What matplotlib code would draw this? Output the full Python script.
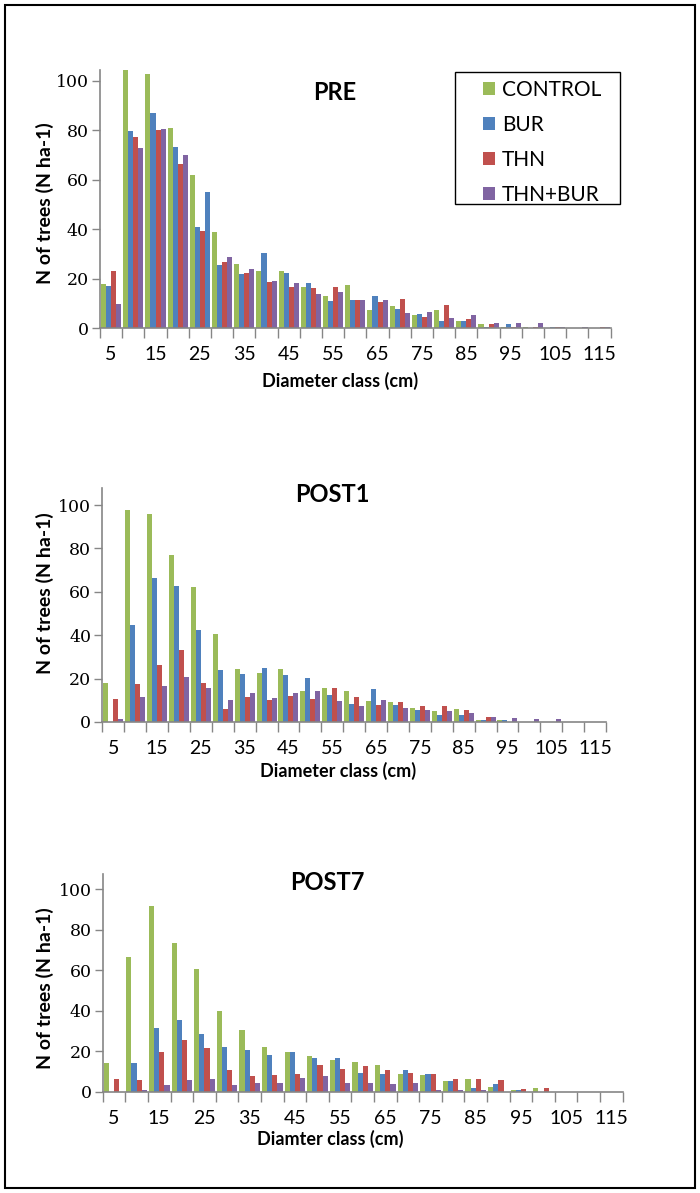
import numpy as np
import matplotlib
matplotlib.use('Agg')
from matplotlib import pyplot as plt
from matplotlib.patches import Rectangle

# -------------------- data ----------------------

classes = [5, 10, 15, 20, 25, 30, 35, 40, 45, 50, 55, 60,
           65, 70, 75, 80, 85, 90, 95, 100, 105, 110, 115]
tick_labels = [str(c) if i % 2 == 0 else '' for i, c in enumerate(classes)]
series = ['CONTROL', 'BUR', 'THN', 'THN+BUR']

# PRE
pre_control = [17.8, 110, 102.8, 81, 61.8, 38.9, 26, 23, 23, 16.6, 12.9, 17.6,
               7.3, 8.9, 5.5, 7.3, 3.1, 1.6, 0.5, 0.5, 0.3, 0, 0]
pre_bur = [17.2, 79.8, 86.8, 73.2, 41, 25.4, 21.8, 30.3, 22.3, 18.2, 10.9, 11.6,
           12.9, 7.9, 5.8, 3.1, 3.1, 0.5, 1.6, 0.1, 0.5, 0, 0]
pre_thn = [23, 77.4, 80, 66.5, 39.4, 26.6, 22.3, 18.7, 16.6, 16.2, 16.6, 11.6,
           10.5, 12, 4.7, 9.3, 3.6, 1.6, 0.5, 0.5, 0.5, 0, 0.5]
pre_thnbur = [10, 72.7, 80.5, 70.1, 55, 28.7, 23.8, 19.2, 18.2, 14, 14.5, 11.6,
              11.6, 6.3, 6.7, 4.2, 5.2, 2.2, 2.2, 2.2, 0.5, 0.5, 0.5]

# POST1
post1_control = [17.8, 97.7, 96, 77.1, 62.4, 40.4, 24.4, 22.7, 24.4, 14.4, 15.5, 14.4,
                 9.7, 9.1, 6.6, 4.9, 6.1, 0.9, 0.9, 0, 0, 0, 0]
post1_bur = [0, 44.5, 66.5, 62.8, 42.2, 23.8, 22, 25, 21.5, 20.3, 12.6, 8.4,
             15.1, 7.8, 5.5, 3.1, 3.1, 0.9, 0.9, 0, 0, 0, 0]
post1_thn = [10.8, 17.4, 26.1, 33.3, 18, 6.1, 11.4, 10.3, 12, 10.8, 15.5, 11.4,
             7.8, 9.1, 7.2, 7.2, 5.5, 2.5, 0, 0, 0, 0, 0]
post1_thnbur = [1.4, 11.4, 16.7, 20.9, 15.5, 10.3, 13.2, 10.9, 13.2, 14.4, 9.7, 7.2,
                10.3, 6.6, 5.5, 4.9, 4.3, 2.5, 2, 1.4, 1.4, 0, 0]

# POST7
post7_control = [14.1, 66.3, 91.6, 73.2, 60.8, 39.7, 30.4, 22.2, 19.7, 17.7, 15.9, 14.6,
                 13.3, 8.9, 8.4, 5.3, 6.4, 2.6, 0.8, 2, 0, 0, 0]
post7_bur = [0, 14.1, 31.7, 35.5, 28.6, 22.2, 20.9, 18.4, 19.7, 16.6, 16.6, 9.5,
             8.9, 10.8, 9, 5.3, 2, 3.9, 0.8, 0, 0, 0, 0]
post7_thn = [6.4, 5.7, 19.7, 25.5, 21.5, 10.8, 7.7, 8.4, 9, 13.3, 11.5, 12.6,
             10.8, 9.5, 9, 6.4, 6.4, 5.7, 1.5, 2, 0, 0, 0]
post7_thnbur = [0, 0.8, 3.3, 5.7, 6.4, 3.3, 4.6, 4.6, 7.1, 7.7, 4.6, 4.6,
                3.9, 4.6, 0.8, 0.8, 0.8, 0, 0, 0, 0, 0, 0]

# -------------------- style ----------------------

colors = ['#9BBB59', '#4F81BD', '#C0504D', '#8064A2']
grey = '#868686'

W, H = 700, 1193
fig = plt.figure(figsize=(7, 11.93), dpi=100)


def px_axes(left, top, right, bottom):
    return fig.add_axes([left / W, 1 - bottom / H, (right - left) / W, (bottom - top) / H])


panels = [
    dict(title='PRE', box=(100, 70, 610.7, 328.3), ymax=104.3,
         data=[pre_control, pre_bur, pre_thn, pre_thnbur],
         xlabel='Diameter class (cm)', title_x=335, title_y=93, xl_x=340, xl_y=381, yl_y=203),
    dict(title='POST1', box=(102.3, 488.3, 606, 722), ymax=107.7,
         data=[post1_control, post1_bur, post1_thn, post1_thnbur],
         xlabel='Diameter class (cm)', title_x=332, title_y=494, xl_x=338, xl_y=771, yl_y=593),
    dict(title='POST7', box=(102.7, 874, 622.7, 1092), ymax=107.4,
         data=[post7_control, post7_bur, post7_thn, post7_thnbur],
         xlabel='Diamter class (cm)', title_x=327, title_y=882, xl_x=330, xl_y=1139, yl_y=988),
]

x = np.arange(len(classes))
w = 0.228
offsets = [-1.5, -0.5, 0.5, 1.5]

for k, p in enumerate(panels):
    ax = px_axes(*p['box'])
    bars = []
    for j, vals in enumerate(p['data']):
        b = ax.bar(x + offsets[j] * w, vals, w, color=colors[j], label=series[j], linewidth=0)
        bars.append(b)
    if k == 0:
        # the THN+BUR bar at 25 cm is drawn in blue in the original
        bars[3][4].set_color(colors[1])

    ax.set_xlim(-0.5, len(classes) - 0.5)
    ax.set_ylim(0, p['ymax'])
    ax.set_yticks([0, 20, 40, 60, 80, 100])
    ax.tick_params(axis='y', direction='out', length=6, width=1, color=grey,
                   labelsize=12.5, pad=2)
    for lab in ax.get_yticklabels():
        lab.set_family('DejaVu Serif')
    ax.set_xticks(x)
    ax.set_xticklabels(tick_labels, fontsize=14, family='Lato')
    ax.tick_params(axis='x', which='major', length=0, pad=13)
    ax.set_xticks(np.arange(-0.5, len(classes)), minor=True)
    ax.tick_params(axis='x', which='minor', direction='out', length=7, width=1, color=grey)

    for s in ['top', 'right']:
        ax.spines[s].set_visible(False)
    for s in ['left', 'bottom']:
        ax.spines[s].set_color(grey)
        ax.spines[s].set_linewidth(1.2)

    fig.text(p['title_x'] / W, 1 - p['title_y'] / H, p['title'], ha='center', va='center',
             fontsize=17, fontweight='bold', family='Lato')
    fig.text(p['xl_x'] / W, 1 - p['xl_y'] / H, p['xlabel'], ha='center', va='center',
             fontsize=13, fontweight='bold', family='Lato')
    fig.text(45 / W, 1 - p['yl_y'] / H, 'N of trees (N ha-1)', ha='center', va='center',
             rotation=90, fontsize=14, fontweight='bold', family='Lato')

    if k == 0:
        leg = ax.legend(loc='upper left', bbox_to_anchor=(483 / W, 1 - 80 / H),
                        bbox_transform=fig.transFigure, frameon=False,
                        handlelength=0.6, handleheight=0.6, handletextpad=0.3,
                        labelspacing=0.72, borderpad=0, borderaxespad=0,
                        prop={'family': 'Lato', 'size': 15})
        fig.patches.append(Rectangle((455 / W, 1 - 204 / H), 165 / W, 132 / H,
                                     transform=fig.transFigure, fill=False,
                                     edgecolor='black', linewidth=1.0))

# outer border
fig.patches.append(Rectangle((5 / W, 5 / H), 690 / W, 1183 / H, transform=fig.transFigure,
                             fill=False, edgecolor='black', linewidth=1.5))

fig.savefig('out.png', dpi=100)
